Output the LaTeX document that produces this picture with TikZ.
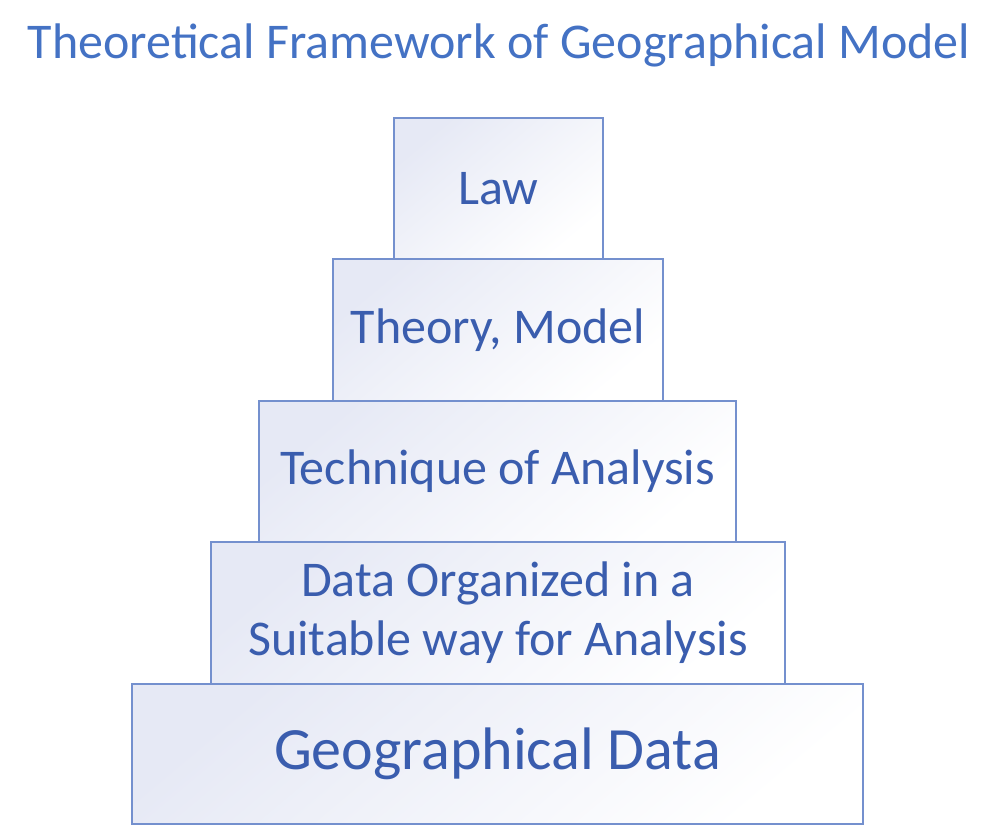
\documentclass[tikz,border=0pt]{standalone}
\usepackage{fontspec}
\setmainfont{Carlito}
\definecolor{titleblue}{HTML}{4472C4}
\definecolor{textblue}{HTML}{3A5DAE}
\definecolor{edgeblue}{HTML}{7490CE}
\definecolor{lavender}{HTML}{E6E9F5}
\tikzset{
  level/.style={rectangle, draw=edgeblue, line width=1.1pt, text=textblue,
    shade, top color=lavender, bottom color=white, shading angle=40,
    inner sep=0pt, align=center, font=\fontsize{50}{59}\selectfont},
}
\begin{document}
\begin{tikzpicture}[x=1pt, y=-1pt]
    \useasboundingbox (0,0) rectangle (997,827);
    % Draw title
    \node[text=titleblue, font=\fontsize{50}{55}\selectfont] (title) at (499,45) {Theoretical Framework of Geographical Model};

    % Draw nodes
    \node[level, minimum width=209pt, minimum height=141pt] (law) at (498.5,188.5) {Law};
    \node[level, minimum width=330pt, minimum height=142pt] (theory) at (498,330) {Theory, Model};
    \node[level, minimum width=477pt, minimum height=141pt] (technique) at (497.5,471.5) {Technique of Analysis};
    \node[level, minimum width=574pt, minimum height=142pt] (data) at (498,613) {Data Organized in a\\Suitable way for Analysis};
    \node[level, minimum width=731pt, minimum height=140pt, font=\fontsize{60}{66}\selectfont] (geodata) at (497.5,754) {Geographical Data};
\end{tikzpicture}
\end{document}
